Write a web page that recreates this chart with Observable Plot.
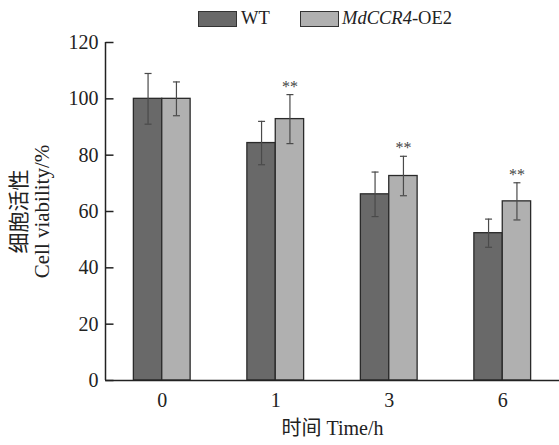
<!DOCTYPE html>
<html><head><meta charset="utf-8">
<script src="https://cdn.jsdelivr.net/npm/d3@7"></script>
<script src="https://cdn.jsdelivr.net/npm/@observablehq/plot@0.6"></script>
<style>
body{margin:0;background:#fff;}
#wrap{position:relative;width:559px;height:445px;font-family:'Liberation Serif','Times New Roman',serif;color:#222;}
.legend{position:absolute;top:0;left:0;height:30px;width:559px;z-index:2;}
.sw{position:absolute;top:11px;width:37px;height:14px;border:1px solid #333;}
.lt{position:absolute;top:7px;font-size:18.5px;line-height:22px;white-space:nowrap;}
</style></head><body>
<div id="wrap"></div>
<script>
const times = ["0", "1", "3", "6"];
const seriesNames = ["WT", "MdCCR4-OE2"];
const wtValues = [100, 84.3, 66.1, 52.3];
const wtErrors = [9, 7.7, 7.9, 5.0];
const oeValues = [100, 92.8, 72.6, 63.6];
const oeErrors = [6, 8.7, 7.0, 6.6];
const significance = ["", "**", "**", "**"];
const yTicks = [0, 20, 40, 60, 80, 100, 120];
const colors = {"WT": "#696969", "MdCCR4-OE2": "#b0b0b0"};

const rows = times.flatMap((t, i) => [
  {i, t, series: seriesNames[0], v: wtValues[i], e: wtErrors[i], sig: ""},
  {i, t, series: seriesNames[1], v: oeValues[i], e: oeErrors[i], sig: significance[i]}
]);
const off = d => d.series === seriesNames[0] ? -0.25 : 0;
const bx1 = d => d.i + off(d);
const bx2 = d => d.i + off(d) + 0.25;
const bxc = d => d.i + off(d) + 0.125;

const capSymbol = {
  draw(context, size) {
    const r = Math.sqrt(size / Math.PI);
    context.moveTo(-r, 0);
    context.lineTo(r, 0);
  }
};
const inwardTick = {
  draw(context, size) {
    const r = Math.sqrt(size / Math.PI);
    context.moveTo(0, 0);
    context.lineTo(r, 0);
  }
};

const wrap = document.getElementById("wrap");
const legend = document.createElement("div");
legend.className = "legend";
legend.innerHTML =
  `<div class="sw" style="left:198px;background:${colors["WT"]}"></div>` +
  `<div class="lt" style="left:241px">WT</div>` +
  `<div class="sw" style="left:300px;background:${colors["MdCCR4-OE2"]}"></div>` +
  `<div class="lt" style="left:342px"><i>MdCCR4</i>-OE2</div>`;
wrap.appendChild(legend);

const chart = Plot.plot({
  width: 559,
  height: 445,
  marginTop: 42,
  marginBottom: 65,
  marginLeft: 105,
  marginRight: 0,
  style: {fontFamily: "'Liberation Serif','Noto Sans CJK SC',serif", fontSize: "20px", color: "#222", background: "white", overflow: "visible"},
  x: {type: "linear", domain: [-0.5, 3.5]},
  y: {domain: [0, 120]},
  marks: [
    Plot.rect(rows, {x1: bx1, x2: bx2, y1: 0, y2: "v", fill: d => colors[d.series], stroke: "#2a2a2a", strokeWidth: 1.3}),
    Plot.ruleX(rows, {x: bxc, y1: d => d.v - d.e, y2: d => d.v + d.e, stroke: "#4a4a4a", strokeWidth: 1.2}),
    Plot.dot(rows, {x: bxc, y: d => d.v + d.e, symbol: capSymbol, r: 3.5, stroke: "#4a4a4a", strokeWidth: 1.2}),
    Plot.dot(rows, {x: bxc, y: d => d.v - d.e, symbol: capSymbol, r: 3.5, stroke: "#4a4a4a", strokeWidth: 1.2}),
    Plot.text(rows.filter(d => d.sig), {x: bxc, y: d => d.v + d.e, text: "sig", dy: -8, fontSize: 16, fill: "#444"}),
    Plot.ruleX([-0.5], {y1: 0, y2: 120, stroke: "#222", strokeWidth: 1.5}),
    Plot.ruleY([0], {stroke: "#222", strokeWidth: 1.5}),
    Plot.dot(yTicks, {y: d => d, frameAnchor: "left", symbol: inwardTick, r: 8, stroke: "#222", strokeWidth: 1.5}),
    Plot.axisY({ticks: yTicks, tickSize: 0, tickPadding: 7, label: null}),
    Plot.axisX({ticks: [0, 1, 2, 3], tickFormat: i => times[i], tickSize: 0, tickPadding: 12, label: null}),
    Plot.text(["细胞活性\nCell viability/%"], {frameAnchor: "middle", textAnchor: "middle", rotate: -90, dx: -302, lineHeight: 1.1, fontSize: 21, fill: "#222"}),
    Plot.text(["时间 Time/h"], {frameAnchor: "bottom", dy: 54, fontSize: 20, fill: "#222"})
  ]
});
wrap.appendChild(chart);
</script>
</body></html>
